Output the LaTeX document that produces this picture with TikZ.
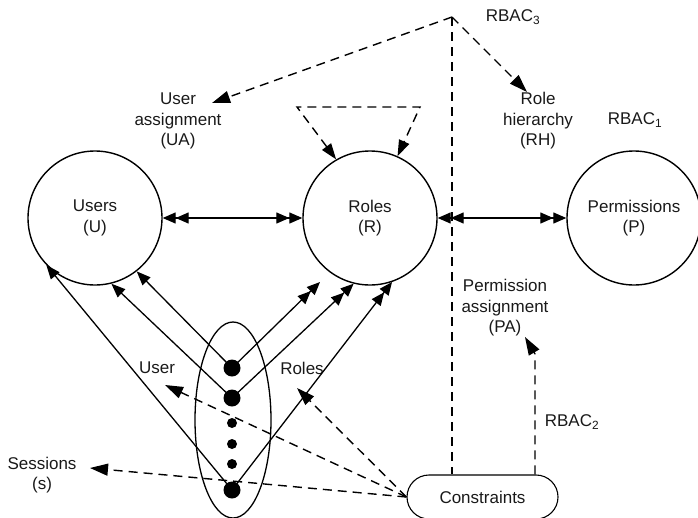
\documentclass[tikz,border=0pt]{standalone}
\usepackage{fontspec}
\setmainfont{Liberation Sans}
\usetikzlibrary{arrows.meta,calc}
\begin{document}
\begin{tikzpicture}[x=1pt,y=-1pt,
  every node/.style={font=\fontsize{17}{20.5}\selectfont, inner sep=0pt, align=center, text=black!90},
  setcircle/.style={draw, circle, minimum size=134pt, line width=1.4pt},
  bigdot/.style={circle, fill=black, minimum size=17pt},
  smalldot/.style={circle, fill=black, minimum size=10pt},
  dashline/.style={line width=1.4pt, dash pattern=on 9pt off 6pt},
  headarrow/.style={-{Triangle[length=18pt,width=12pt]}},
  solidline/.style={line width=1.3pt},
  onehead/.style={-{Triangle[length=14pt,width=11pt]}},
  twoheads/.style={-{Triangle[length=13pt,width=11pt]Triangle[length=13pt,width=11pt]}},
  bothtwo/.style={{Triangle[length=13pt,width=11pt]Triangle[length=13pt,width=11pt]}-{Triangle[length=13pt,width=11pt]Triangle[length=13pt,width=11pt]}}
]
\useasboundingbox (0,0) rectangle (698,517);

% main sets
\node[setcircle] (U) at (95,218) {Users\\(U)};
\node[setcircle] (R) at (370,218) {Roles\\(R)};
\node[setcircle] (P) at (634,218) {Permissions\\(P)};

\draw[solidline, bothtwo] (U.east) -- (R.west);
\draw[solidline, bothtwo] (R.east) -- (P.west);

% labels
\node (rbac3) at (513,17) {RBAC\textsubscript{3}};
\node (ua) at (178,121) {User\\assignment\\(UA)};
\node (rh) at (538,121) {Role\\hierarchy\\(RH)};
\node (rbac1) at (635,120) {RBAC\textsubscript{1}};
\node (pa) at (505,308) {Permission\\assignment\\(PA)};
\node (rbac2) at (572,422) {RBAC\textsubscript{2}};
\node (userlbl) at (157,368) {User};
\node (roleslbl) at (302,368) {Roles};
\node (sess) at (42,475) {Sessions\\(s)};

% constraints
\node[draw, rounded corners=22pt, minimum width=151pt, minimum height=44pt, line width=1.1pt] (C) at (482.5,497) {Constraints};

% RBAC3 dashed lines
\coordinate (apex) at (452,17);
\coordinate (uatip) at (212,103);
\coordinate (rhtip) at (527,92);
\draw[dashline, headarrow] (apex) -- (uatip);
\draw[dashline, headarrow] (apex) -- (rhtip);
\draw[dashline] (apex) -- (C.north -| apex);

% role hierarchy loop
\coordinate (loopa) at (297,107);
\coordinate (loopb) at (420,107);
\draw[dashline, {Triangle[length=16pt,width=11pt]}-{Triangle[length=16pt,width=11pt]}] (R.120) -- (loopa) -- (loopb) -- (R.66);

% PA arrow
\coordinate (pabend) at (535,354);
\coordinate (patip) at (525,337);
\draw[dashline, headarrow] (C.north -| pabend) -- (pabend) -- (patip);

% session ellipse and dots
\draw[line width=1.3pt] (233,420) ellipse [x radius=38, y radius=98];
\node[bigdot] (d1) at (232,368) {};
\node[bigdot] (d2) at (232,398) {};
\node[smalldot] (s1) at (232,423) {};
\node[smalldot] (s2) at (232,444) {};
\node[smalldot] (s3) at (232,464) {};
\node[bigdot] (d4) at (232,490) {};

% session lines to users
\draw[solidline, onehead] (d1.center) -- (U.-52);
\draw[solidline, onehead] (d2.center) -- (U.-76);
\draw[solidline, onehead] (d4.center) -- (U.-136);

% session lines to roles
\coordinate (r1) at (320,282);
\draw[solidline, twoheads] (d1.center) -- (r1);
\draw[solidline, twoheads] (d2.center) -- (R.-104);
\draw[solidline, twoheads] (d4.center) -- (R.-71);

% constraints dashed arrows
\coordinate (usertip) at (165,385);
\coordinate (rolestip) at (297,388);
\coordinate (sesstip) at (90,468);
\draw[dashline, headarrow] (C.west) -- (usertip);
\draw[dashline, headarrow] (C.west) -- (rolestip);
\draw[dashline, headarrow] (C.west) -- (sesstip);
\end{tikzpicture}
\end{document}
